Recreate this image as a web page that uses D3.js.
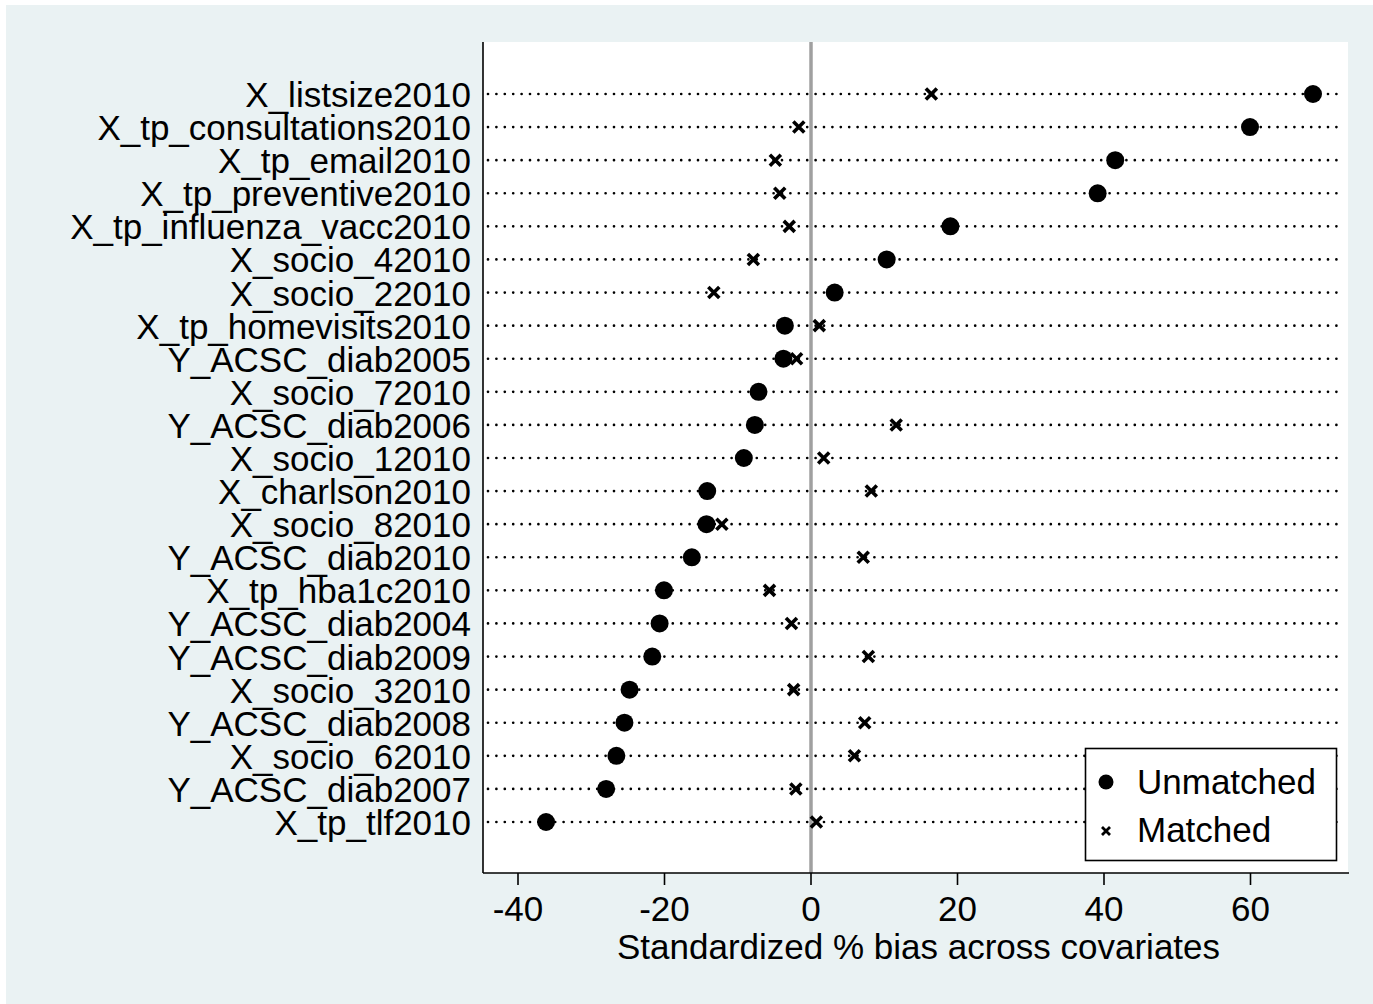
<!DOCTYPE html>
<html lang="en">
  <head>
    <meta charset="utf-8"/>
    <title>Standardized % bias across covariates</title>
    <style>
      html, body { margin: 0; padding: 0; background: #fff; }
      svg { display: block; font-family: "Liberation Sans", Arial, sans-serif; }
    </style>
  </head>
  <body>
    <div id="chart"></div>

<script src="https://d3js.org/d3.v7.min.js"></script>
<script>
  // covariates, top to bottom
  const covariates = [
    "X_listsize2010", "X_tp_consultations2010", "X_tp_email2010", "X_tp_preventive2010",
    "X_tp_influenza_vacc2010", "X_socio_42010", "X_socio_22010", "X_tp_homevisits2010",
    "Y_ACSC_diab2005", "X_socio_72010", "Y_ACSC_diab2006", "X_socio_12010",
    "X_charlson2010", "X_socio_82010", "Y_ACSC_diab2010", "X_tp_hba1c2010",
    "Y_ACSC_diab2004", "Y_ACSC_diab2009", "X_socio_32010", "Y_ACSC_diab2008",
    "X_socio_62010", "Y_ACSC_diab2007", "X_tp_tlf2010"
  ];
  const unmatched = [
    68.6, 60.0, 41.6, 39.2, 19.1, 10.4, 3.3, -3.5,
    -3.7, -7.1, -7.6, -9.1, -14.1, -14.2, -16.2, -20.0,
    -20.6, -21.6, -24.7, -25.4, -26.5, -27.9, -36.1
  ];
  const matched = [
    16.5, -1.6, -4.8, -4.2, -2.9, -7.8, -13.2, 1.2,
    -1.9, -7.0, 11.7, 1.8, 8.3, -12.1, 7.2, -5.6,
    -2.6, 7.9, -2.3, 7.4, 6.0, -2.0, 0.8
  ];
  const xTicks = [-40, -20, 0, 20, 40, 60];
  const legendLabels = ["Unmatched", "Matched"];

  const width = 1373;
  const height = 1004;
  const plot = { left: 483, right: 1348, top: 42, bottom: 873 };

  const svg = d3.select("#chart").append("svg")
      .attr("width", width)
      .attr("height", height);

  svg.append("rect")
      .attr("x", 6).attr("y", 5)
      .attr("width", width - 6).attr("height", height - 5)
      .attr("fill", "#eaf2f3");

  svg.append("rect")
      .attr("x", plot.left).attr("y", plot.top)
      .attr("width", plot.right - plot.left).attr("height", plot.bottom - plot.top)
      .attr("fill", "#fff");

  const x = d3.scaleLinear()
      .domain([-40, 60])
      .range([517.5, 1250]);

  const y = d3.scalePoint()
      .domain(covariates)
      .range([94, 822]);

  // dotted row lines
  svg.append("g")
      .attr("stroke", "#000")
      .attr("stroke-width", 2.7)
      .attr("stroke-linecap", "round")
      .attr("stroke-dasharray", "0 8.4")
    .selectAll("line")
    .data(covariates)
    .join("line")
      .attr("x1", plot.left + 5)
      .attr("x2", plot.right - 4)
      .attr("y1", d => y(d))
      .attr("y2", d => y(d));

  // zero reference line
  svg.append("line")
      .attr("x1", Math.round(x(0))).attr("x2", Math.round(x(0)))
      .attr("y1", plot.top).attr("y2", plot.bottom)
      .attr("stroke", "#a0a0a0")
      .attr("stroke-width", 3.5);

  // y labels
  svg.append("g")
      .attr("font-size", 35)
      .attr("text-anchor", "end")
    .selectAll("text")
    .data(covariates)
    .join("text")
      .attr("x", 471)
      .attr("y", d => y(d) + 13)
      .text(d => d);

  // axes
  svg.append("line")
      .attr("x1", plot.left).attr("x2", plot.left)
      .attr("y1", plot.top).attr("y2", plot.bottom)
      .attr("stroke", "#000").attr("stroke-width", 1.6);

  const xAxis = svg.append("g")
      .attr("transform", `translate(0,${plot.bottom})`)
      .call(d3.axisBottom(x).tickValues(xTicks).tickSize(12).tickPadding(11).tickFormat(d => String(d)));
  xAxis.select(".domain").remove();
  xAxis.append("line")
      .attr("x1", plot.left).attr("x2", plot.right + 1)
      .attr("stroke", "#000").attr("stroke-width", 1.6);
  xAxis.selectAll(".tick line").attr("stroke", "#000").attr("stroke-width", 1.6);
  xAxis.selectAll(".tick text")
      .attr("font-size", 35)
      .attr("font-family", "Liberation Sans, Arial, sans-serif")
      .attr("fill", "#000");

  svg.append("text")
      .attr("x", x(0) + 108)
      .attr("y", 959)
      .attr("text-anchor", "middle")
      .attr("font-size", 35)
      .text("Standardized % bias across covariates");

  const crossPath = s => `M${-s},${-s}L${s},${s}M${-s},${s}L${s},${-s}`;

  // matched markers
  svg.append("g")
    .selectAll("path")
    .data(matched)
    .join("path")
      .attr("transform", (d, i) => `translate(${x(d)},${y(covariates[i])})`)
      .attr("d", crossPath(5.5))
      .attr("stroke", "#000")
      .attr("stroke-width", 3.6)
      .attr("fill", "none");

  // unmatched markers
  svg.append("g")
    .selectAll("circle")
    .data(unmatched)
    .join("circle")
      .attr("cx", d => x(d))
      .attr("cy", (d, i) => y(covariates[i]))
      .attr("r", 9)
      .attr("fill", "#000");

  // legend
  const legend = svg.append("g");
  legend.append("rect")
      .attr("x", 1085.5).attr("y", 748.5)
      .attr("width", 251).attr("height", 112)
      .attr("fill", "#fff")
      .attr("stroke", "#000")
      .attr("stroke-width", 1.6);
  legend.append("circle")
      .attr("cx", 1106).attr("cy", 782)
      .attr("r", 7.5)
      .attr("fill", "#000");
  legend.append("path")
      .attr("transform", "translate(1106,831)")
      .attr("d", crossPath(4))
      .attr("stroke", "#000")
      .attr("stroke-width", 2.8);
  legend.selectAll("text")
    .data(legendLabels)
    .join("text")
      .attr("x", 1137)
      .attr("y", (d, i) => 794 + i * 48)
      .attr("font-size", 35)
      .text(d => d);
</script>
  </body>
</html>
